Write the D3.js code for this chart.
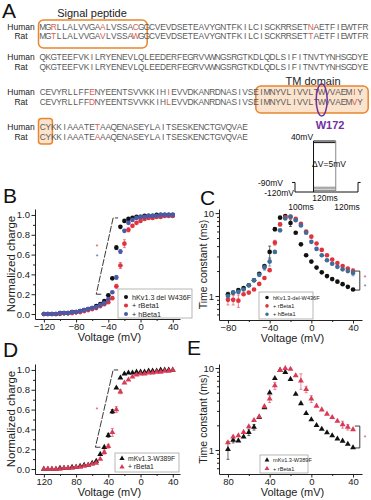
<!DOCTYPE html>
<html>
<head>
<meta charset="utf-8">
<script src="https://cdn.jsdelivr.net/npm/d3@7"></script>
<style>
  body { margin: 0; background: #fff; }
  svg { display: block; }
  text { font-family: "Liberation Sans", Arial, sans-serif; }
</style>
</head>
<body>
<svg width="371" height="500"></svg>
<script>
// ---------- panel A : alignment ----------
var humanSeq = [
  "MGRLLALVVGAALVSSACGGCVEVDSETEAVYGNTFKILCISCKRRSETNAETFIEWTFR",
  "QKGTEEFVKILRYENEVLQLEEDERFEGRVVWNGSRGTKDLQDLSIFITNVTYNHSGDYE",
  "CEVYRLLFFENYEENTSVVKKIHIEVVDKANRDNASIVSEIMNYVLIVVLTWVVAEMIY",
  "CYKKIAAATETAAQENASEYLAITSESKENCTGVQVAE"
];
var ratSeq = [
  "MGTLLALVVGAVLVSSAWGGCVEVDSETEAVYGNTFKILCISCKRRSETTAETFIEWTFR",
  "QKGTEEFVKILRYENEVLQLEEDERFEGRVVWNGSRGTKDLQDLSIFITNVTYNHSGDYE",
  "CEVYRLLFFDNYEENTSVVKKIHLEVVDKANRDNASIVSEIMNYVLIVVLTWVVAEMVY",
  "CYKKIAAATEAAAQENASEYLAITSESKENCTGVQVAE"
];
var diffPos = [[2, 11, 17, 49], [], [9, 23, 57], [10]];

// ---------- voltage protocol ----------
var protoLevels = [40, 35, -105, -110, -115];

// ---------- panel B : Q-V, hKv1.3 del W436F ----------
var vB = [-120,-115,-110,-105,-100,-95,-90,-85,-80,-75,-70,-65,-60,-55,-50,-45,-40,-35,-30,-25,-20,-15,-10,-5,0,5,10,15,20,25,30,35,40];
var bBlack = [0,0,0,0,0.01,0.01,0.01,0.02,0.02,0.03,0.04,0.05,0.06,0.08,0.10,0.13,0.19,0.36,0.67,0.88,0.94,0.96,0.97,0.98,0.98,0.99,0.99,0.99,1,1,1,1,1];
var bRed   = [0,0,0,0,0,0.01,0.01,0.01,0.02,0.02,0.03,0.04,0.05,0.06,0.08,0.10,0.12,0.16,0.28,0.49,0.71,0.85,0.89,0.92,0.94,0.96,0.97,0.97,0.98,0.98,0.99,0.99,0.99];
var bBlue  = [0,0,0,0,0.01,0.01,0.01,0.02,0.02,0.03,0.04,0.05,0.06,0.07,0.09,0.11,0.15,0.22,0.37,0.63,0.84,0.92,0.95,0.97,0.98,0.98,0.99,0.99,0.99,1,1,1,1];
var bBlackErr = [0,0,0,0,0,0,0,0,0,0,0,0,0,0,0,0,0,0.01,0.02,0.01,0,0,0,0,0,0,0,0,0,0,0,0,0];
var bRedErr   = [0,0,0,0,0,0,0,0,0,0,0,0,0,0,0,0,0,0.01,0.02,0.03,0.04,0.02,0,0,0,0,0,0,0,0,0,0,0];
var bBlueErr  = [0,0,0,0,0,0,0,0,0,0,0,0,0,0,0,0,0,0.01,0.02,0.02,0.01,0,0,0,0,0,0,0,0,0,0,0,0];

// ---------- panel C : time constants, hKv1.3 del W436F ----------
var vC = [-80,-75,-70,-65,-60,-55,-50,-45,-40,-35,-30,-25,-20,-15,-10,-5,0,5,10,15,20,25,30,35,40];
var cBlack = [1.05,1.1,1.18,1.25,1.35,1.55,1.85,2.3,3.4,6.4,8.8,9.2,7.6,5.8,4.2,3.1,2.6,2.2,1.93,1.74,1.6,1.49,1.39,1.29,1.2];
var cRed   = [0.9,0.9,0.88,1.05,1.1,1.2,1.4,1.65,2.05,4.4,7.3,8.9,9.0,8.5,7.4,6.0,5.2,4.3,3.6,3.1,2.75,2.5,2.3,2.15,2.0];
var cBlue  = [1.0,1.1,1.12,1.2,1.35,1.55,1.8,2.2,2.6,3.4,6.2,8.6,9.1,8.2,7.1,5.8,4.5,3.7,3.1,2.7,2.45,2.25,2.1,2.0,1.9];
var cBlackErr = [0.06,0,0,0,0,0,0,0,0.6,0.3,0,0,0.7,0,0,0,0,0,0,0,0,0,0,0,0];
var cRedErr   = [0.12,0.12,0.15,0,0,0,0,0,0,0.3,0.3,0,0,0,0,0,0,0,0,0,0,0,0,0,0.15];
var cBlueErr  = [0,0,0,0,0,0,0,0.15,0.3,0,0,0,0,0,0,0,0,0,0,0,0,0,0,0,0.15];

// ---------- panel D : Q-V, mKv1.3-W389F ----------
var dBlack = [0,0,0,0,0.01,0.01,0.01,0.02,0.02,0.03,0.04,0.04,0.06,0.08,0.15,0.22,0.34,0.58,0.82,0.92,0.96,0.97,0.97,0.98,0.98,0.98,0.99,0.99,0.99,1,1,1,1];
var dRed   = [0,0,0,0,0,0.01,0.01,0.01,0.02,0.02,0.03,0.04,0.05,0.06,0.10,0.17,0.23,0.37,0.60,0.78,0.87,0.90,0.93,0.95,0.96,0.96,0.97,0.97,0.98,0.98,0.99,0.99,1];
var dBlackErr = [0,0,0,0,0,0,0,0,0,0,0,0,0,0,0,0,0.02,0.02,0,0,0,0,0,0,0,0,0,0,0,0,0,0,0];
var dRedErr   = [0,0,0,0,0,0,0,0,0,0,0,0,0,0,0,0.02,0.02,0.04,0.03,0.02,0,0,0,0,0,0,0,0,0,0,0,0,0];

// ---------- panel E : time constants, mKv1.3-W389F ----------
var eBlack = [1.02,1.32,1.3,1.45,1.65,1.9,2.5,3.3,5.0,7.5,9.4,8.9,7.3,4.8,3.7,2.8,2.35,2.0,1.8,1.63,1.5,1.37,1.29,1.18,1.07];
var eRed   = [1.23,1.45,1.5,1.65,1.93,2.3,2.55,3.4,4.2,6.1,9.4,9.9,9.7,8.1,7.0,5.5,4.2,3.45,3.1,2.75,2.5,2.25,2.05,1.9,1.78];
var eBlackErr = [0.25,0.1,0,0,0.15,0.15,0,0,0,0,0,0,0,0,0,0,0,0,0,0,0,0,0,0,0];
var eRedErr   = [0,0,0,0,0,0,0,0,0.4,0.6,0,0,0,0,1.5,0.5,0.4,0,0,0,0,0,0.2,0.15,0];

var svg = d3.select("svg");
svg.append("rect").attr("width", 371).attr("height", 500).attr("fill", "#fff");

var RED = "#e0333d", PINK = "#d93a56", BLK = "#111", BLUE = "#4a5aa8", TEAL = "#3f6d99";
var ORANGE = "#e8862e", PURPLE = "#7030a0";

// ---------- panel letters ----------
[["A", 2, 18], ["B", 3, 203], ["C", 200, 205], ["D", 3, 357], ["E", 187, 355]].forEach(function(l) {
  svg.append("text").attr("x", l[1]).attr("y", l[2]).attr("font-size", 21).attr("fill", "#111").text(l[0]);
});

// ---------- alignment ----------
var charW = 5.47, seqX0 = 40;
var rowY = [[29.5, 38.5], [60, 69.5], [95, 105], [130, 140]];
var cx = function(i) { return seqX0 + i * charW; };

// boxes
svg.append("rect").attr("x", cx(0) - 1.5).attr("y", 20).attr("width", cx(19.6) - cx(0) + 1.5).attr("height", 28)
  .attr("rx", 5).attr("fill", "none").attr("stroke", ORANGE).attr("stroke-width", 1.5);
svg.append("rect").attr("x", cx(40) - 3).attr("y", 86).attr("width", cx(60) - cx(40) + 3).attr("height", 27)
  .attr("rx", 5).attr("fill", "#fbe3cd").attr("stroke", ORANGE).attr("stroke-width", 1.5);
svg.append("rect").attr("x", cx(0) - 1.5).attr("y", 118.5).attr("width", cx(2) - cx(0) + 3).attr("height", 25.5)
  .attr("rx", 3).attr("fill", "#fbe3cd").attr("stroke", ORANGE).attr("stroke-width", 1.5);

svg.append("text").attr("x", 92).attr("y", 17).attr("text-anchor", "middle").attr("font-size", 11)
  .attr("font-family", "Lato, 'Open Sans', sans-serif").attr("fill", "#222").text("Signal peptide");
svg.append("text").attr("x", 313).attr("y", 85).attr("text-anchor", "middle").attr("font-size", 11)
  .attr("font-family", "Lato, 'Open Sans', sans-serif").attr("fill", "#222").text("TM domain");

humanSeq.forEach(function(seq, r) {
  [[seq, "Human"], [ratSeq[r], "Rat"]].forEach(function(pair, k) {
    var yy = rowY[r][k];
    svg.append("text").attr("x", 21).attr("y", yy).attr("text-anchor", "middle").attr("font-size", 8.5)
      .attr("font-family", "Lato, 'Open Sans', sans-serif").attr("fill", "#222").text(pair[1]);
    svg.append("g").selectAll("text").data(pair[0].split("")).enter().append("text")
      .attr("x", function(d, i) { return cx(i) + charW / 2; })
      .attr("y", yy)
      .attr("text-anchor", "middle")
      .attr("font-family", "'Liberation Mono', 'DejaVu Sans Mono', monospace")
      .attr("font-size", 8.4)
      .attr("fill", function(d, i) { return diffPos[r].indexOf(i) >= 0 ? "#dc5a4e" : "#5a5a5a"; })
      .text(function(d) { return d; });
  });
});

// W172 mark
svg.append("ellipse").attr("cx", cx(51) + charW / 2).attr("cy", 100).attr("rx", 5.5).attr("ry", 16)
  .attr("fill", "none").attr("stroke", PURPLE).attr("stroke-width", 1.5);
svg.append("text").attr("x", 330).attr("y", 129).attr("text-anchor", "middle").attr("font-size", 11)
  .attr("font-weight", "bold").attr("font-family", "Lato, 'Open Sans', sans-serif").attr("fill", PURPLE).text("W172");

// ---------- voltage protocol ----------
var pt = d3.scaleLinear().domain([0, 340]).range([295, 358]);
var pv = d3.scaleLinear().domain([-120, 40]).range([192, 141]);
var proto = svg.append("g").attr("fill", "none");
proto.selectAll("line.lv").data(protoLevels).enter().append("line")
  .attr("x1", pt(100)).attr("x2", pt(220))
  .attr("y1", function(d) { return pv(d); }).attr("y2", function(d) { return pv(d); })
  .attr("stroke", function(d) { return d > 0 ? "#111" : "#888"; }).attr("stroke-width", 1);
proto.append("path")
  .attr("d", "M" + pt(-16) + "," + pv(-90) + "H" + pt(0) + "V" + pv(-120) + "H" + pt(340) + "V" + pv(-90) + "H" + pt(354))
  .attr("stroke", "#111").attr("stroke-width", 1);
proto.append("line").attr("x1", pt(100)).attr("x2", pt(100)).attr("y1", pv(-120)).attr("y2", pv(40))
  .attr("stroke", "#111");
proto.append("line").attr("x1", pt(220)).attr("x2", pt(220)).attr("y1", pv(-120)).attr("y2", pv(40))
  .attr("stroke", "#888");
var protoText = [
  ["40mV", 302, 140, "middle"], ["\u0394V=5mV", 329, 167, "middle"],
  ["-90mV", 283, 186, "end"], ["-120mV", 294, 196, "end"],
  ["120ms", 325, 201, "middle"], ["100ms", 301, 209.5, "middle"], ["120ms", 347, 209.5, "middle"]
];
protoText.forEach(function(t) {
  svg.append("text").attr("x", t[1]).attr("y", t[2]).attr("text-anchor", t[3]).attr("font-size", 8.5)
    .attr("fill", "#111").text(t[0]);
});

// ---------- chart panels ----------
function drawPanel(p) {
  var g = svg.append("g");
  var x = p.x, y = p.y;
  var yb = y.range()[0], xl = x.range()[0];

  g.append("g").attr("transform", "translate(0," + yb + ")")
    .call(d3.axisBottom(x).tickValues(p.xTicks).tickSize(3.5).tickSizeOuter(0).tickPadding(1).tickFormat(p.xFmt));
  g.append("g").attr("transform", "translate(0," + yb + ")")
    .call(d3.axisBottom(x).tickValues(p.xMinor).tickSize(2).tickFormat(""))
    .select(".domain").remove();
  g.append("g").attr("transform", "translate(" + xl + ",0)")
    .call(d3.axisLeft(y).tickValues(p.yTicks).tickSize(3.5).tickSizeOuter(0).tickPadding(1.5).tickFormat(p.yFmt));
  g.append("g").attr("transform", "translate(" + xl + ",0)")
    .call(d3.axisLeft(y).tickValues(p.yMinor).tickSize(2).tickFormat(""))
    .select(".domain").remove();
  g.selectAll(".tick text").attr("font-size", 9.5).attr("font-family", "'Liberation Sans', Arial, sans-serif").attr("fill", "#222");
  g.selectAll(".domain, .tick line").attr("stroke", "#222");

  g.append("text").attr("x", (xl + x.range()[1]) / 2 + 2).attr("y", yb + 22).attr("text-anchor", "middle")
    .attr("font-size", 11).attr("fill", "#222").text("Voltage (mV)");
  g.append("text").attr("transform", "translate(" + p.titleX + "," + ((y.range()[0] + y.range()[1]) / 2) + ") rotate(-90)")
    .attr("text-anchor", "middle").attr("font-size", p.titleSize).attr("fill", "#222").text(p.title);

  // bracket + significance marks
  if (p.bracket) {
    var b = p.bracket;
    g.append("path").attr("fill", "none").attr("stroke", "#222").attr("stroke-width", 0.9)
      .attr("stroke-dasharray", b.dash || null)
      .attr("d", b.path(x, y));
  }
  (p.stars || []).forEach(function(s) {
    g.append("text").attr("x", x(s[0])).attr("y", y(s[1]) + 2.5).attr("text-anchor", "middle")
      .attr("font-size", 6.5).attr("fill", s[2]).text("*");
  });

  // data
  p.series.forEach(function(s) {
    var pts = p.v.map(function(v, i) { return { v: v, val: s.values[i], e: s.err[i] }; });
    var sg = g.append("g");
    sg.selectAll("path.eb").data(pts.filter(function(d) { return d.e > 0; })).enter().append("path")
      .attr("fill", "none").attr("stroke", s.color).attr("stroke-opacity", 0.75).attr("stroke-width", 0.8)
      .attr("d", function(d) {
        var px = x(d.v), y1 = y(d.val + d.e), y0 = y(Math.max(d.val - d.e, y.domain()[0]));
        return "M" + (px - 1.5) + "," + y1 + "H" + (px + 1.5) + "M" + px + "," + y1 + "V" + y0 + "M" + (px - 1.5) + "," + y0 + "H" + (px + 1.5);
      });
    sg.selectAll("path.pt").data(pts).enter().append("path")
      .attr("transform", function(d) { return "translate(" + x(d.v) + "," + y(d.val) + ")"; })
      .attr("d", d3.symbol().type(s.shape).size(s.size))
      .attr("fill", s.color);
  });

  // legend
  var L = p.legend;
  var lg = g.append("g");
  lg.append("rect").attr("x", L.x).attr("y", L.y).attr("width", L.w).attr("height", L.h)
    .attr("fill", "#fff").attr("stroke", "#999").attr("stroke-width", 0.7);
  p.series.forEach(function(s, i) {
    var yy = L.y + L.top + i * L.dy;
    lg.append("path").attr("transform", "translate(" + (L.x + L.sx) + "," + yy + ")")
      .attr("d", d3.symbol().type(s.shape).size(L.sym)).attr("fill", s.color);
    lg.append("text").attr("x", L.x + L.sx + 6).attr("y", yy + L.font * 0.36).attr("font-size", L.font)
      .attr("fill", "#222").text(s.name);
  });
}

var xQV_B = d3.scaleLinear().domain([-131, 49]).range([35, 180]);
var xQV_D = d3.scaleLinear().domain([-131, 49]).range([35, 180]);
var xTau = d3.scaleLinear().domain([-88.6, 48.6]).range([219, 362]);
var absFmt = function(d) { return String(Math.abs(d)); };

function qvBracket(x0, y0, x1, y1) {
  return function(x, y) {
    return "M" + (x(x0) + 5) + "," + y(y0) + "H" + x(x0) + "L" + x(x1) + "," + y(y1) + "H" + (x(x1) + 5);
  };
}
function tauBracket(xv, y0, y1) {
  return function(x, y) {
    return "M" + (x(xv) - 5) + "," + y(y0) + "H" + x(xv) + "V" + y(y1) + "H" + (x(xv) - 5);
  };
}

drawPanel({
  x: xQV_B, y: d3.scaleLinear().domain([-0.05, 1.06]).range([319, 209]),
  xTicks: [-120, -80, -40, 0, 40], xMinor: [-100, -60, -20, 20], xFmt: d3.format("d"),
  yTicks: [0, 0.2, 0.4, 0.6, 0.8, 1.0], yMinor: [0.1, 0.3, 0.5, 0.7, 0.9], yFmt: d3.format(".1f"),
  title: "Normalized charge", titleX: 15, titleSize: 11.5,
  v: vB,
  series: [
    { name: "hKv1.3 del W436F", values: bBlack, err: bBlackErr, color: BLK, shape: d3.symbolCircle, size: 17 },
    { name: "+ rBeta1", values: bRed, err: bRedErr, color: RED, shape: d3.symbolCircle, size: 17 },
    { name: "+ hBeta1", values: bBlue, err: bBlueErr, color: BLUE, shape: d3.symbolCircle, size: 17 }
  ],
  bracket: { path: qvBracket(-55, 0.2, -34, 0.97), dash: "7,1.5" },
  stars: [[-54, 0.68, RED], [-54, 0.58, BLUE]],
  legend: { x: 118, y: 289, w: 74, h: 29, top: 8, dy: 8.5, sx: 8, sym: 13, font: 7.2 }
});

drawPanel({
  x: xTau, y: d3.scaleLog().domain([0.514, 11.2]).range([320, 209]),
  xTicks: [-80, -40, 0, 40], xMinor: [-60, -20, 20], xFmt: d3.format("d"),
  yTicks: [1, 10], yMinor: [0.6, 0.7, 0.8, 0.9, 2, 3, 4, 5, 6, 7, 8, 9], yFmt: d3.format("d"),
  title: "Time constant (ms)", titleX: 207, titleSize: 10.5,
  v: vC,
  series: [
    { name: "hKv1.3-del-W436F", values: cBlack, err: cBlackErr, color: BLK, shape: d3.symbolCircle, size: 17 },
    { name: "+ rBeta1", values: cRed, err: cRedErr, color: RED, shape: d3.symbolCircle, size: 17 },
    { name: "+ hBeta1", values: cBlue, err: cBlueErr, color: TEAL, shape: d3.symbolCircle, size: 17 }
  ],
  bracket: { path: tauBracket(46.5, 2.0, 1.18) },
  stars: [[51.5, 1.68, RED], [51.5, 1.3, TEAL]],
  legend: { x: 259, y: 292, w: 54, h: 27, top: 5.5, dy: 8.4, sx: 8, sym: 10, font: 5.6 }
});

drawPanel({
  x: xQV_D, y: d3.scaleLinear().domain([-0.05, 1.06]).range([474, 364]),
  xTicks: [-120, -80, -40, 0, 40], xMinor: [-100, -60, -20, 20], xFmt: absFmt,
  yTicks: [0, 0.2, 0.4, 0.6, 0.8, 1.0], yMinor: [0.1, 0.3, 0.5, 0.7, 0.9], yFmt: d3.format(".1f"),
  title: "Normalized charge", titleX: 15, titleSize: 11.5,
  v: vB,
  series: [
    { name: "mKv1.3-W389F", values: dBlack, err: dBlackErr, color: BLK, shape: d3.symbolTriangle, size: 15 },
    { name: "+ rBeta1", values: dRed, err: dRedErr, color: PINK, shape: d3.symbolTriangle, size: 15 }
  ],
  bracket: { path: qvBracket(-56, 0.22, -34, 1.0), dash: "7,1.5" },
  stars: [[-54, 0.60, PINK]],
  legend: { x: 115, y: 453, w: 64, h: 19, top: 5.5, dy: 8.5, sx: 7, sym: 12, font: 6.8 }
});

drawPanel({
  x: xTau, y: d3.scaleLog().domain([0.51, 11.2]).range([474, 364]),
  xTicks: [-80, -40, 0, 40], xMinor: [-60, -20, 20], xFmt: absFmt,
  yTicks: [1, 10], yMinor: [0.6, 0.7, 0.8, 0.9, 2, 3, 4, 5, 6, 7, 8, 9], yFmt: d3.format("d"),
  title: "Time constant (ms)", titleX: 207, titleSize: 10.5,
  v: vC,
  series: [
    { name: "mKv1.3-W389F", values: eBlack, err: eBlackErr, color: BLK, shape: d3.symbolTriangle, size: 15 },
    { name: "+ rBeta1", values: eRed, err: eRedErr, color: PINK, shape: d3.symbolTriangle, size: 15 }
  ],
  bracket: { path: tauBracket(46.5, 1.96, 1.06) },
  stars: [[51.5, 1.44, PINK]],
  legend: { x: 260, y: 455, w: 48, h: 18, top: 5, dy: 8.5, sx: 7, sym: 10, font: 5.6 }
});
</script>
</body>
</html>
